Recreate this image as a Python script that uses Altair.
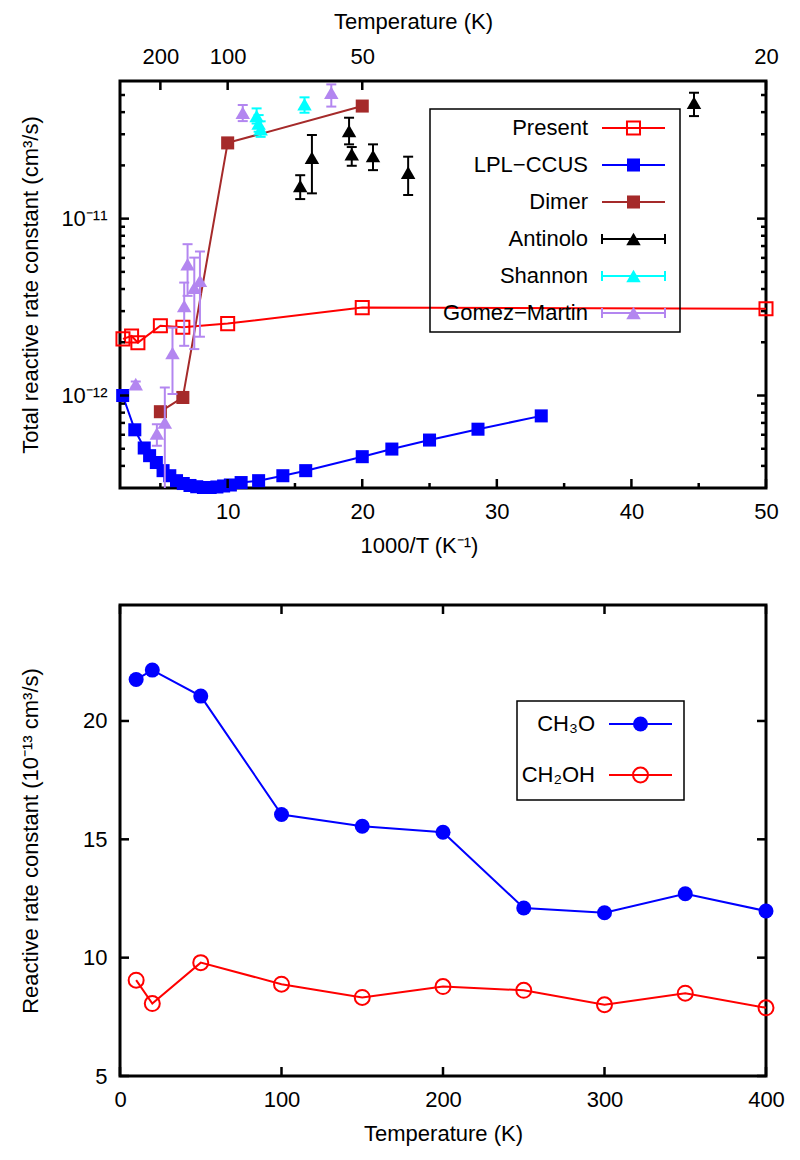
import math
import altair as alt
import pandas as pd

FONT = "Liberation Sans"
FS = 22
RED = "#FF0000"
BLUE = "#0000FF"
BROWN = "#A52A2A"
BLACK = "#000000"
CYAN = "#00FFFF"
PURPLE = "#B386F0"

# ---------------- top panel data (x = 1000/T in 1/K, k in cm^3/s) ----------------
present_x = [2.22, 2.86, 3.33, 5.0, 6.67, 10.0, 20.0, 50.0]
present_k = [2.09e-12, 2.17e-12, 1.99e-12, 2.48e-12, 2.43e-12, 2.55e-12, 3.14e-12, 3.09e-12]

lpl_x = [2.2, 3.1, 3.8, 4.2, 4.7, 5.2, 5.7, 6.2, 6.7, 7.2, 7.7, 8.2, 8.7, 9.2, 9.7,
         10.2, 11.0, 12.3, 14.1, 15.8, 20.0, 22.2, 25.0, 28.6, 33.3]
lpl_k = [1.0e-12, 6.4e-13, 5.05e-13, 4.57e-13, 4.18e-13, 3.76e-13, 3.52e-13, 3.3e-13,
         3.18e-13, 3.1e-13, 3.05e-13, 3.02e-13, 3.02e-13, 3.04e-13, 3.08e-13, 3.12e-13,
         3.22e-13, 3.3e-13, 3.52e-13, 3.76e-13, 4.51e-13, 4.98e-13, 5.6e-13, 6.45e-13, 7.67e-13]

dimer_x = [5.0, 6.67, 10.0, 20.0]
dimer_k = [8.1e-13, 9.75e-13, 2.68e-11, 4.33e-11]

antinolo_x = [15.39, 16.26, 19.02, 19.22, 20.8, 23.41, 44.65]
antinolo_k = [1.53e-11, 2.21e-11, 3.13e-11, 2.31e-11, 2.26e-11, 1.82e-11, 4.52e-11]
antinolo_lo = [1.29e-11, 1.39e-11, 2.63e-11, 1.99e-11, 1.88e-11, 1.36e-11, 3.8e-11]
antinolo_hi = [1.76e-11, 2.97e-11, 3.72e-11, 2.54e-11, 2.63e-11, 2.24e-11, 5.15e-11]

shannon_x = [12.15, 12.3, 12.45, 15.71]
shannon_k = [3.8e-11, 3.45e-11, 3.2e-11, 4.43e-11]
shannon_lo = [3.45e-11, 3.1e-11, 2.9e-11, 3.97e-11]
shannon_hi = [4.2e-11, 3.85e-11, 3.55e-11, 4.85e-11]

gomez_x = [3.17, 4.74, 5.33, 5.9, 6.77, 7.02, 7.52, 7.94, 11.12, 17.7]
gomez_k = [1.16e-12, 6.1e-13, 7.03e-13, 1.74e-12, 3.21e-12, 5.52e-12, 4.07e-12, 4.45e-12, 3.97e-11, 5.15e-11]
gomez_lo = [1.12e-12, 5.2e-13, 2.5e-13, 1.02e-12, 1.91e-12, 3.66e-12, 1.83e-12, 2.15e-12, 3.56e-11, 4.3e-11]
gomez_hi = [1.2e-12, 6.89e-13, 1.11e-12, 2.42e-12, 4.35e-12, 7.17e-12, 6.02e-12, 6.52e-12, 4.39e-11, 5.74e-11]

# ---------------- bottom panel data ----------------
temp_K = [10, 20, 50, 100, 150, 200, 250, 300, 350, 400]
ch3o_k = [21.75, 22.15, 21.05, 16.05, 15.55, 15.3, 12.1, 11.9, 12.7, 11.97]
ch2oh_k = [9.05, 8.06, 9.79, 8.88, 8.32, 8.78, 8.62, 8.01, 8.5, 7.88]

# ---------------- ticks / labels ----------------
x_major = [10, 20, 30, 40, 50]
x_minor = [5, 15, 25, 35, 45]
top_T_labels = [200, 100, 50, 20]
y_major = [1e-12, 1e-11]
y_minor = [m * 10.0 ** e for e in (-13, -12, -11) for m in range(2, 10)
           if 3.05e-13 < m * 10.0 ** e < 5.9e-11]
b_x_ticks = [0, 100, 200, 300, 400]
b_y_ticks = [5, 10, 15, 20]

W = 646
H1 = 407
H2 = 471
TL = 9   # major tick length
TM = 5   # minor tick length

X1D = [2, 50]
Y1D = [3e-13, 6e-11]
X2D = [0, 400]
Y2D = [5, 24.9]

xs1 = alt.Scale(domain=X1D, nice=False, zero=False)
ys1 = alt.Scale(type="log", domain=Y1D, nice=False)
xs2 = alt.Scale(domain=X2D, nice=False, zero=False)
ys2 = alt.Scale(domain=Y2D, nice=False, zero=False)


# pixel -> data converters for legend placement (inverse of the panel scales)
def px1(px):
    return X1D[0] + px * (X1D[1] - X1D[0]) / W


def py1(py):
    a, b = math.log10(Y1D[1]), math.log10(Y1D[0])
    return 10 ** (a - py / H1 * (a - b))


def px2(px):
    return X2D[0] + px * (X2D[1] - X2D[0]) / W


def py2(py):
    return Y2D[1] - py * (Y2D[1] - Y2D[0]) / H2


class Panel:
    def __init__(self, xs, ys, fx, fy, xd, yd):
        self.xs, self.ys, self.fx, self.fy, self.xd, self.yd = xs, ys, fx, fy, xd, yd

    def X(self, f, axis=None):
        return alt.X(f, type="quantitative", scale=self.xs, axis=axis)

    def Y(self, f, axis=None):
        return alt.Y(f, type="quantitative", scale=self.ys, axis=axis)


def tick_layer(P, values, side, length, axis=None):
    if side in ("bottom", "top"):
        yv = P.yd[0] if side == "bottom" else P.yd[1]
        df = pd.DataFrame({"v": values, "c": [yv] * len(values)})
        off = -length / 2 if side == "bottom" else length / 2
        return alt.Chart(df).mark_tick(color=BLACK, orient="vertical", size=length,
                                       thickness=2.5, opacity=1, yOffset=off).encode(
            x=P.X("v", axis), y=P.Y("c"))
    xv = P.xd[0] if side == "left" else P.xd[1]
    df = pd.DataFrame({"v": values, "c": [xv] * len(values)})
    off = length / 2 if side == "left" else -length / 2
    return alt.Chart(df).mark_tick(color=BLACK, orient="horizontal", size=length,
                                   thickness=2.5, opacity=1, xOffset=off).encode(
        y=P.Y("v", axis), x=P.X("c"))


def line_series(P, xs, ys, color, shape, filled, size):
    df = pd.DataFrame({"x": xs, "y": ys})
    base = alt.Chart(df)
    line = base.mark_line(color=color, strokeWidth=2).encode(x=P.X("x"), y=P.Y("y"))
    pts = base.mark_point(shape=shape, filled=filled, color=color, size=size,
                          strokeWidth=2, opacity=1).encode(x=P.X("x"), y=P.Y("y"))
    return [line, pts]


TRI = 210


def err_series(P, xs, ys, lo, hi, color):
    df = pd.DataFrame({"x": xs, "y": ys, "lo": lo, "hi": hi})
    base = alt.Chart(df)
    bar = base.mark_rule(color=color, strokeWidth=2, clip=True).encode(
        x=P.X("x"), y=P.Y("lo"), y2="hi:Q")
    cap1 = base.mark_tick(color=color, orient="horizontal", size=10, thickness=2,
                          opacity=1, clip=True).encode(x=P.X("x"), y=P.Y("lo"))
    cap2 = base.mark_tick(color=color, orient="horizontal", size=10, thickness=2,
                          opacity=1, clip=True).encode(x=P.X("x"), y=P.Y("hi"))
    tri = base.mark_point(shape="triangle-up", filled=True, color=color, size=TRI,
                          opacity=1).encode(x=P.X("x"), y=P.Y("y"))
    return [bar, cap1, cap2, tri]


def legend_box(P, x0, x1, y0, y1):
    df = pd.DataFrame({"x": [P.fx(x0)], "x2": [P.fx(x1)], "y": [P.fy(y0)], "y2": [P.fy(y1)]})
    return alt.Chart(df).mark_rect(fillOpacity=0, stroke=BLACK, strokeWidth=1.5).encode(
        x=P.X("x"), x2="x2:Q", y=P.Y("y"), y2="y2:Q")


def legend_row(P, y, label, color, xt, x0, x1, kind, shape=None, filled=True, size=170):
    out = []
    dt = pd.DataFrame({"x": [P.fx(xt)], "y": [P.fy(y)], "t": [label]})
    out.append(alt.Chart(dt).mark_text(align="right", baseline="middle", font=FONT, fontSize=FS,
                                       color=BLACK).encode(x=P.X("x"), y=P.Y("y"), text="t:N"))
    dl = pd.DataFrame({"x": [P.fx(x0)], "x2": [P.fx(x1)], "y": [P.fy(y)]})
    out.append(alt.Chart(dl).mark_rule(color=color, strokeWidth=2).encode(
        x=P.X("x"), x2="x2:Q", y=P.Y("y")))
    xm = (x0 + x1) / 2
    if kind == "err":
        dc = pd.DataFrame({"x": [P.fx(x0), P.fx(x1)], "y": [P.fy(y - 5)] * 2,
                           "y2": [P.fy(y + 5)] * 2})
        out.append(alt.Chart(dc).mark_rule(color=color, strokeWidth=2).encode(
            x=P.X("x"), y=P.Y("y"), y2="y2:Q"))
        shape, filled, size = "triangle-up", True, TRI
    dm = pd.DataFrame({"x": [P.fx(xm)], "y": [P.fy(y)]})
    out.append(alt.Chart(dm).mark_point(shape=shape, filled=filled, color=color, size=size,
                                        strokeWidth=2, opacity=1).encode(
        x=P.X("x"), y=P.Y("y")))
    return out


# ================= top panel =================
P1 = Panel(xs1, ys1, px1, py1, X1D, Y1D)

bottom_axis = alt.Axis(values=x_major, title="1000/T (K⁻¹)", labelPadding=13,
                       titleX=299, titleY=47, titleBaseline="top", format="d")
top_axis = alt.Axis(orient="top", values=[1000.0 / t for t in top_T_labels],
                    labelExpr="format(1000/datum.value, 'd')", title="Temperature (K)",
                    labelPadding=13, titleX=293, titleY=-48, titleBaseline="bottom")
left_axis = alt.Axis(values=y_major,
                     labelExpr="datum.value < 5e-12 ? '10⁻¹²' : '10⁻¹¹'",
                     title="Total reactive rate constant (cm³/s)", labelPadding=13,
                     titleX=-78, titleBaseline="bottom")

top_layers = []
top_layers += line_series(P1, present_x, present_k, RED, "square", False, 170)
top_layers += line_series(P1, lpl_x, lpl_k, BLUE, "square", True, 170)
top_layers += line_series(P1, dimer_x, dimer_k, BROWN, "square", True, 170)
top_layers += err_series(P1, antinolo_x, antinolo_k, antinolo_lo, antinolo_hi, BLACK)
top_layers += err_series(P1, shannon_x, shannon_k, shannon_lo, shannon_hi, CYAN)
top_layers += err_series(P1, gomez_x, gomez_k, gomez_lo, gomez_hi, PURPLE)

top_layers.append(tick_layer(P1, x_major, "bottom", TL, axis=bottom_axis))
top_layers.append(tick_layer(P1, x_minor, "bottom", TM))
top_layers.append(tick_layer(P1, [1000.0 / t for t in top_T_labels], "top", TL, axis=top_axis))
top_layers.append(tick_layer(P1, y_major, "left", TL, axis=left_axis))
top_layers.append(tick_layer(P1, y_minor, "left", TM))
top_layers.append(tick_layer(P1, y_major, "right", TL))
top_layers.append(tick_layer(P1, y_minor, "right", TM))

top_layers.append(legend_box(P1, 310, 560, 28, 251))
leg_rows = [47, 84, 121, 158, 195, 232]
top_layers += legend_row(P1, leg_rows[0], "Present", RED, 468, 482, 545, "line", "square", False)
top_layers += legend_row(P1, leg_rows[1], "LPL−CCUS", BLUE, 468, 482, 545, "line", "square", True)
top_layers += legend_row(P1, leg_rows[2], "Dimer", BROWN, 468, 482, 545, "line", "square", True)
top_layers += legend_row(P1, leg_rows[3], "Antinolo", BLACK, 468, 482, 545, "err")
top_layers += legend_row(P1, leg_rows[4], "Shannon", CYAN, 468, 482, 545, "err")
top_layers += legend_row(P1, leg_rows[5], "Gomez−Martin", PURPLE, 468, 482, 545, "err")

top = alt.layer(*top_layers).properties(width=W, height=H1).resolve_axis(
    x="independent", y="independent")

# ================= bottom panel =================
P2 = Panel(xs2, ys2, px2, py2, X2D, Y2D)

b_bottom_axis = alt.Axis(values=b_x_ticks, title="Temperature (K)", labelPadding=13,
                         titleY=47, titleBaseline="top", format="d")
b_left_axis = alt.Axis(values=b_y_ticks, title="Reactive rate constant (10⁻¹³ cm³/s)",
                       labelPadding=13, titleX=-78, titleBaseline="bottom", format="d")

bot_layers = []
bot_layers += line_series(P2, temp_K, ch3o_k, BLUE, "circle", True, 225)
bot_layers += line_series(P2, temp_K, ch2oh_k, RED, "circle", False, 225)
bot_layers.append(tick_layer(P2, b_x_ticks, "bottom", TL, axis=b_bottom_axis))
bot_layers.append(tick_layer(P2, b_x_ticks, "top", TL))
bot_layers.append(tick_layer(P2, b_y_ticks, "left", TL, axis=b_left_axis))
bot_layers.append(tick_layer(P2, b_y_ticks, "right", TL))

bot_layers.append(legend_box(P2, 397, 564, 96, 195))
bot_layers += legend_row(P2, 119, "CH₃O", BLUE, 475, 489, 552, "line", "circle", True, 225)
bot_layers += legend_row(P2, 170, "CH₂OH", RED, 475, 489, 552, "line", "circle", False, 225)

bottom = alt.layer(*bot_layers).properties(width=W, height=H2).resolve_axis(
    x="independent", y="independent")

chart = alt.vconcat(top, bottom, spacing=45).properties(
    padding={"left": 9, "top": 0, "right": 5, "bottom": 5}
).configure_view(
    stroke=BLACK, strokeWidth=3
).configure_axis(
    labelFont=FONT, titleFont=FONT, labelFontSize=FS, titleFontSize=FS,
    labelColor=BLACK, titleColor=BLACK, titleFontWeight="normal",
    grid=False, domain=False, ticks=False, tickSize=0, labelFlush=False,
    labelOverlap=False
)

chart.save("out.html", embed_options={"renderer": "svg", "actions": False})
